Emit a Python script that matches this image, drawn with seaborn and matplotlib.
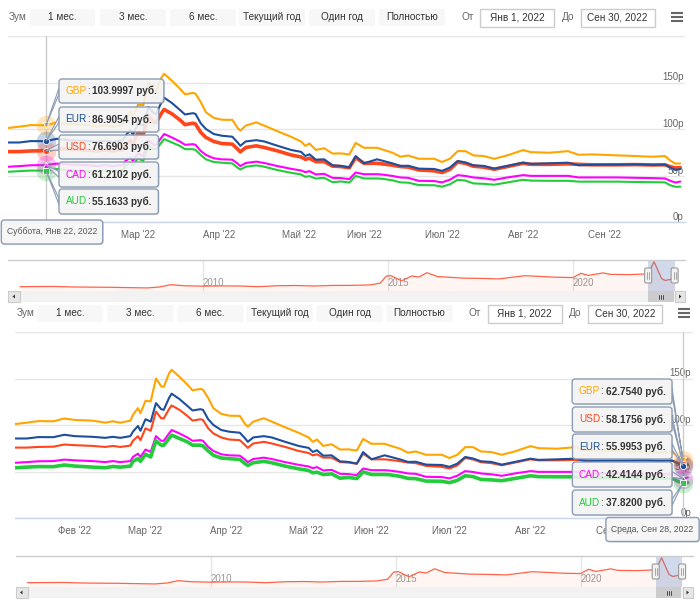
import numpy as np
import pandas as pd
import matplotlib
matplotlib.use("Agg")
import matplotlib.pyplot as plt
import matplotlib.dates as mdates
from matplotlib.patches import Rectangle, FancyBboxPatch, Polygon
import seaborn as sns

sns.set_theme(style="white")
plt.rcParams["font.family"] = ["Liberation Sans", "DejaVu Sans"]

# ---------------- data ----------------
dates = [
    "2022-01-12", "2022-01-15", "2022-01-18", "2022-01-22", "2022-01-27", "2022-02-01", "2022-02-08",
    "2022-02-13", "2022-02-16", "2022-02-19", "2022-02-23", "2022-02-24", "2022-02-26", "2022-02-27",
    "2022-03-01", "2022-03-03", "2022-03-05", "2022-03-07", "2022-03-08", "2022-03-10", "2022-03-11",
    "2022-03-14", "2022-03-17", "2022-03-19", "2022-03-22", "2022-03-23", "2022-03-25", "2022-03-27",
    "2022-03-30",
    "2022-04-02", "2022-04-06", "2022-04-08", "2022-04-09", "2022-04-11", "2022-04-15", "2022-04-18",
    "2022-04-23", "2022-04-28",
    "2022-05-02", "2022-05-04", "2022-05-06", "2022-05-09", "2022-05-13", "2022-05-17", "2022-05-21",
    "2022-05-25", "2022-05-28",
    "2022-06-01", "2022-06-06", "2022-06-08", "2022-06-12", "2022-06-15", "2022-06-18", "2022-06-22",
    "2022-06-28",
    "2022-07-01", "2022-07-04", "2022-07-07", "2022-07-10", "2022-07-13", "2022-07-17", "2022-07-21",
    "2022-07-26",
    "2022-08-01", "2022-08-04", "2022-08-11", "2022-08-18", "2022-08-22", "2022-08-27",
    "2022-09-06", "2022-09-13", "2022-09-19", "2022-09-24", "2022-09-26", "2022-09-28", "2022-09-30",
]
gbp = [101.1, 102.5, 104.2, 103.9997, 107.0, 105.4, 104.7, 102.5, 104.0, 102.5, 104.7, 110.9, 118.1, 112.7,
       126.0, 125.4, 150.0, 141.7, 141.0, 155.4, 159.4, 151.8, 143.5, 137.3, 138.8, 138.0, 129.0, 118.0, 112.0,
       110.0, 109.8, 101.0, 98.2, 103.6, 107.2, 103.6, 97.5, 91.7,
       86.6, 81.9, 84.4, 77.5, 79.3, 73.6, 73.8, 72.5, 85.0,
       79.8, 79.8, 78.0, 74.5, 70.2, 71.5, 68.0, 68.0,
       64.5, 68.0, 76.2, 76.2, 71.6, 70.9, 68.0, 71.6,
       77.3, 75.1, 74.5, 76.2, 72.3, 72.7,
       71.6, 70.9, 70.2, 70.9, 66.0, 62.754, 63.0]
eur = [85.5, 85.5, 87.0, 86.9054, 89.5, 88.0, 87.3, 86.2, 87.3, 86.2, 88.0, 92.8, 98.9, 93.8,
       106.2, 103.6, 123.5, 117.0, 116.3, 129.0, 133.7, 127.9, 120.6, 115.6, 117.0, 116.3, 106.2, 100.0, 94.6,
       92.8, 91.7, 85.5, 81.9, 86.6, 88.0, 86.6, 81.9, 77.5,
       75.4, 71.0, 72.8, 67.0, 67.4, 60.9, 60.3, 58.5, 70.9,
       63.1, 67.4, 66.0, 63.0, 60.3, 60.5, 57.4, 57.0,
       55.0, 58.5, 65.6, 64.0, 61.0, 60.3, 57.4, 60.3,
       63.8, 62.5, 63.1, 63.8, 61.0, 61.5,
       61.7, 62.0, 61.5, 61.7, 58.5, 55.9953, 57.0]
usd = [75.7, 75.7, 76.4, 76.6903, 79.0, 78.3, 77.5, 76.4, 77.5, 76.4, 77.9, 83.0, 88.0, 83.7,
       96.4, 93.8, 114.5, 107.2, 107.2, 117.0, 121.0, 116.3, 109.8, 104.7, 106.2, 105.4, 96.4, 90.9, 86.6,
       84.4, 83.7, 78.3, 75.4, 80.1, 81.9, 80.1, 76.4, 72.1,
       69.9, 67.4, 68.5, 64.9, 64.9, 60.1, 59.6, 58.3, 69.1,
       63.1, 63.1, 62.5, 61.0, 59.6, 59.0, 56.0, 55.0,
       53.2, 56.5, 64.5, 63.0, 60.0, 59.0, 56.7, 59.6,
       63.1, 62.0, 62.0, 62.5, 62.0, 61.5,
       61.5, 61.7, 61.3, 61.5, 59.5, 58.1756, 58.5]
cad = [59.4, 60.1, 61.0, 61.2102, 62.8, 62.0, 61.2, 60.1, 61.2, 60.1, 61.2, 65.6, 69.2, 65.6,
       73.6, 71.0, 88.0, 83.0, 83.0, 90.9, 94.6, 90.9, 86.6, 83.0, 83.7, 83.0, 76.4, 72.1, 68.5,
       67.4, 67.0, 62.7, 60.1, 63.4, 64.9, 63.4, 60.1, 57.2,
       55.4, 53.6, 54.7, 51.1, 51.8, 47.5, 47.2, 46.1, 53.2,
       51.4, 51.4, 51.0, 49.5, 47.9, 47.5, 44.3, 44.0,
       42.6, 45.5, 50.4, 49.5, 47.9, 47.0, 45.4, 47.9,
       50.4, 49.6, 49.6, 49.6, 47.9, 47.9,
       47.9, 47.5, 47.2, 46.8, 44.3, 42.4144, 43.5]
aud = [54.0, 54.7, 55.3, 55.1633, 57.0, 55.8, 54.7, 54.0, 55.4, 54.7, 55.8, 60.9, 63.8, 60.9,
       68.5, 65.6, 83.0, 78.3, 78.3, 85.5, 89.1, 85.5, 81.9, 78.3, 78.3, 77.5, 72.1, 67.4, 64.5,
       63.8, 63.0, 58.3, 56.5, 59.4, 60.9, 59.4, 55.8, 52.9,
       51.1, 48.6, 49.3, 46.7, 47.5, 42.8, 43.6, 42.4, 49.6,
       46.8, 46.8, 46.5, 44.8, 42.6, 42.3, 39.7, 39.5,
       38.0, 40.5, 45.4, 44.5, 41.5, 41.0, 40.1, 42.5,
       45.4, 44.5, 44.3, 44.3, 43.4, 43.4,
       43.4, 43.0, 42.8, 42.6, 39.5, 37.82, 38.0]

series_names = ["USD", "EUR", "GBP", "CAD", "AUD"]
series_colors = {"GBP": "#ffa500", "EUR": "#1d4f9c", "USD": "#ff451c", "CAD": "#ff00ff", "AUD": "#22cc3a"}
series_markers = {"GBP": "v", "EUR": "o", "USD": "o", "CAD": "^", "AUD": "s"}

month_ticks = ["2022-02-01", "2022-03-01", "2022-04-01", "2022-05-01",
               "2022-06-01", "2022-07-01", "2022-08-01", "2022-09-01"]
month_labels = ["Фев '22", "Мар '22", "Апр '22", "Май '22", "Июн '22", "Июл '22", "Авг '22", "Сен '22"]
y_ticks = [0, 50, 100, 150, 200]
y_labels = ["0р", "50р", "100р", "150р", ""]

nav_dates = ["2005-01-20", "2005-07-01", "2006-01-01", "2006-07-01", "2007-01-01", "2007-07-01",
             "2008-01-01", "2008-07-01", "2008-11-01", "2009-02-15", "2009-07-01", "2010-01-01",
             "2010-07-01", "2011-01-01", "2011-07-01", "2012-01-01", "2012-07-01", "2013-01-01",
             "2013-07-01", "2014-01-01", "2014-07-01", "2014-10-15", "2014-12-16", "2015-01-30",
             "2015-05-15", "2015-08-25", "2015-11-01", "2016-01-21", "2016-05-01", "2016-09-01",
             "2017-01-01", "2017-07-01", "2018-01-01", "2018-04-15", "2018-09-10", "2019-01-01",
             "2019-07-01", "2020-01-01", "2020-03-20", "2020-06-01", "2020-10-25", "2021-01-01",
             "2021-07-01", "2022-01-12", "2022-03-11", "2022-05-25", "2022-06-30", "2022-09-30"]
nav_usd = [28.0, 28.5, 28.8, 27.0, 26.3, 25.8, 24.5, 23.4, 27.0, 35.5,
           31.5, 30.0, 31.0, 30.5, 28.0, 31.5, 32.5, 30.5, 32.7, 33.0,
           34.5, 41.0, 67.8, 69.0, 50.0, 68.0, 64.0, 80.0, 66.0, 63.0,
           60.0, 59.0, 57.0, 62.0, 69.0, 67.0, 63.5, 62.0, 78.0, 70.0,
           79.5, 74.0, 73.0, 75.7, 121.0, 58.3, 51.2, 58.5]
nav_ticks = ["2010-01-01", "2015-01-01", "2020-01-01"]
nav_labels = ["2010", "2015", "2020"]
selection = ("2022-01-12", "2022-09-30")

zoom_label = "Зум"
range_buttons = ["1 мес.", "3 мес.", "6 мес.", "Текущий год", "Один год", "Полностью"]
from_label, to_label = "От", "До"
range_from, range_to = "Янв 1, 2022", "Сен 30, 2022"

top_tip = {"date": "2022-01-22", "title": "Суббота, Янв 22, 2022",
           "order": ["GBP", "EUR", "USD", "CAD", "AUD"],
           "text": {"GBP": "103.9997 руб.", "EUR": "86.9054 руб.", "USD": "76.6903 руб.",
                    "CAD": "61.2102 руб.", "AUD": "55.1633 руб."}}
bottom_tip = {"date": "2022-09-28", "title": "Среда, Сен 28, 2022",
              "order": ["GBP", "USD", "EUR", "CAD", "AUD"],
              "text": {"GBP": "62.7540 руб.", "USD": "58.1756 руб.", "EUR": "55.9953 руб.",
                       "CAD": "42.4144 руб.", "AUD": "37.8200 руб."}}

df = pd.DataFrame({"date": pd.to_datetime(dates), "GBP": gbp, "EUR": eur, "USD": usd,
                   "CAD": cad, "AUD": aud}).melt(id_vars="date", var_name="currency", value_name="rate")
nav_df = pd.DataFrame({"date": pd.to_datetime(nav_dates), "rate": nav_usd})

# ---------------- layout ----------------
W, H = 700, 603
fig = plt.figure(figsize=(W / 100, H / 100), dpi=100)
fig.patch.set_facecolor("white")


def px_axes(x0, y0, x1, y1):
    return fig.add_axes([x0 / W, 1 - y1 / H, (x1 - x0) / W, (y1 - y0) / H])


def dnum(s):
    return mdates.date2num(pd.Timestamp(s))


# ordinal-like x scale of the stock chart (date -> panel pixel)
anc_dates = ["2021-01-12", "2022-01-12", "2022-01-22", "2022-02-01", "2022-03-01", "2022-04-01",
             "2022-05-01", "2022-06-01", "2022-07-01", "2022-08-01", "2022-09-01", "2022-09-28",
             "2022-10-02", "2023-10-02"]
anc_pix = [8 - 365 * 2.6, 8, 46, 67.5, 138, 219, 299, 364, 442, 523, 605, 675.5, 685, 685 + 365 * 2.6]
anc_num = np.array([dnum(d) for d in anc_dates])
anc_pix = np.array(anc_pix, float)


def fwd(v):
    return np.interp(v, anc_num, anc_pix)


def inv(p):
    return np.interp(p, anc_pix, anc_num)


ov = fig.add_axes([0, 0, 1, 1])
ov.set_xlim(0, W)
ov.set_ylim(H, 0)
ov.axis("off")
ov.set_zorder(10)

FS = 7.2
renderer = fig.canvas.get_renderer()


def value_at(cur, date):
    sub = df[(df.currency == cur) & (df.date == pd.Timestamp(date))]
    return float(sub.rate.iloc[0])


def draw_panel(ox, oy, hover, tip):
    ax = px_axes(8 + ox, 36 + oy, 685 + ox, 222 + oy)
    for cur in series_names:
        sub = df[df.currency == cur]
        sns.lineplot(data=sub, x="date", y="rate", ax=ax, color=series_colors[cur],
                     linewidth=2.6 if cur == hover else 1.5, estimator=None, legend=False)
    for ln in ax.lines:
        ln.set_solid_joinstyle("round")
    ax.set_xscale("function", functions=(fwd, inv))
    ax.set_xlim(inv(8), inv(685))
    ax.set_ylim(0, 200)
    ax.set_xticks([dnum(d) for d in month_ticks])
    ax.set_xticklabels(month_labels)
    ax.set_yticks(y_ticks)
    ax.set_yticklabels(y_labels)
    ax.yaxis.tick_right()
    ax.tick_params(axis="y", length=0, pad=-1, labelsize=7, labelcolor="#666666",
                   labelright=True, labelleft=False)
    for lab in ax.get_yticklabels():
        lab.set_horizontalalignment("right")
        lab.set_verticalalignment("bottom")
    ax.tick_params(axis="x", direction="out", length=3.6, width=0.8, color="#ccd6eb", pad=2,
                   labelsize=7, labelcolor="#666666")
    ax.grid(False)
    ax.yaxis.grid(True, color="#e6e6e6", lw=1)
    for s in ["top", "left", "right"]:
        ax.spines[s].set_visible(False)
    ax.spines["bottom"].set_color("#ccd6eb")
    ax.spines["bottom"].set_linewidth(1)
    ax.set_xlabel("")
    ax.set_ylabel("")
    ax.set_axisbelow(True)
    ax.patch.set_alpha(0)

    tnum = dnum(tip["date"])
    ax.axvline(tnum, color="#cccccc", lw=1, zorder=1)
    for cur in tip["order"]:
        v = value_at(cur, tip["date"])
        ax.scatter([tnum], [v], s=200, color=series_colors[cur], alpha=0.25, lw=0, zorder=5, clip_on=False)
        ax.scatter([tnum], [v], s=20, marker=series_markers[cur], color=series_colors[cur],
                   edgecolor="white", lw=0.6, zorder=6, clip_on=False)

    # navigator
    nav = px_axes(8 + ox, 260 + oy, 685 + ox, 291 + oy)
    sns.lineplot(data=nav_df, x="date", y="rate", ax=nav, color="#ff6347", linewidth=0.9,
                 estimator=None, legend=False)
    nav.fill_between(nav_df["date"], nav_df["rate"], 0, color="#ff451c", alpha=0.05, lw=0)
    n10, n20 = dnum("2010-01-01"), dnum("2020-01-01")
    k = (n20 - n10) / (573 - 203)
    nav.set_xlim(n10 + (8 - 203) * k, n10 + (685 - 203) * k)
    nav.set_ylim(12, 127.4)
    nav.set_xticks([dnum(d) for d in nav_ticks])
    nav.set_xticklabels(nav_labels)
    nav.tick_params(axis="x", direction="in", length=0, pad=-9, labelsize=7, labelcolor="#999999")
    for lab in nav.get_xticklabels():
        lab.set_horizontalalignment("left")
    nav.set_yticks([])
    nav.grid(False)
    nav.xaxis.grid(True, color="#e6e6e6", lw=1)
    for s in nav.spines.values():
        s.set_visible(False)
    nav.set_xlabel("")
    nav.set_ylabel("")
    nav.patch.set_alpha(0)
    return ax, nav


def draw_toolbar(ox, oy):
    yc = 17.5 + oy
    ov.text(9 + ox, yc, zoom_label, color="#666666", fontsize=FS, ha="left", va="center")
    btn_x = [(30, 95), (100, 166), (170, 236), (239, 305), (309, 375), (379, 445)]
    for (x0, x1), lab in zip(btn_x, range_buttons):
        ov.add_patch(FancyBboxPatch((x0 + ox, 9 + oy), x1 - x0, 17,
                                    boxstyle="round,pad=0,rounding_size=2", fc="#f7f7f7", ec="none"))
        ov.text((x0 + x1) / 2 + ox, yc, lab, color="#333333", fontsize=FS, ha="center", va="center")
    ov.text(467.5 + ox, yc, from_label, color="#666666", fontsize=FS, ha="center", va="center")
    ov.text(568 + ox, yc, to_label, color="#666666", fontsize=FS, ha="center", va="center")
    for (x0, x1), lab in zip([(480, 554), (580.5, 654.5)], [range_from, range_to]):
        ov.add_patch(Rectangle((x0 + ox, 8.5 + oy), x1 - x0, 18, fc="white", ec="#cccccc", lw=1))
        ov.text((x0 + x1) / 2 + ox, yc, lab, color="#333333", fontsize=FS, ha="center", va="center")
    for yy in (13, 16.8, 20.6):
        ov.plot([670.5 + ox, 682.5 + ox], [yy + oy] * 2, color="#666666", lw=1.5, solid_capstyle="butt")


def draw_nav_extras(nav, ox, oy):
    ov.plot([8 + ox, 685 + ox], [260 + oy] * 2, color="#cccccc", lw=1)
    sx0 = nav.transData.transform((dnum(selection[0]), 50))[0]
    sx1 = nav.transData.transform((dnum(selection[1]), 50))[0]
    ov.add_patch(Rectangle((sx0, 260 + oy), sx1 - sx0, 31, fc=(0.4, 0.52, 0.76, 0.3), ec="none"))
    for hx in (sx0, sx1):
        ov.add_patch(FancyBboxPatch((hx - 3.5, 268 + oy), 7, 15, boxstyle="round,pad=0,rounding_size=1.5",
                                    fc="#f2f2f2", ec="#999999", lw=0.8, zorder=4))
        for dx in (-1, 1):
            ov.plot([hx + dx] * 2, [272 + oy, 279 + oy], color="#999999", lw=0.6, zorder=5)
    ov.add_patch(Rectangle((8 + ox, 291 + oy), 677, 11, fc="#f2f2f2", ec="none"))
    ov.add_patch(Rectangle((sx0, 291 + oy), sx1 - sx0 - 1, 11, fc="#cccccc", ec="none"))
    cx = (sx0 + sx1) / 2
    for dx in (-2, 0, 2):
        ov.plot([cx + dx] * 2, [294.5 + oy, 298.5 + oy], color="#333333", lw=0.6)
    ov.add_patch(Rectangle((8 + ox, 291 + oy), 12, 11, fc="#e6e6e6", ec="#cccccc", lw=0.8))
    ov.add_patch(Polygon([(12.5 + ox, 296.5 + oy), (15 + ox, 294.5 + oy), (15 + ox, 298.5 + oy)],
                         closed=True, fc="#333333", ec="none"))
    ov.add_patch(Rectangle((675 + ox, 291 + oy), 10, 11, fc="#e6e6e6", ec="#cccccc", lw=0.8))
    ov.add_patch(Polygon([(681.5 + ox, 296.5 + oy), (679 + ox, 294.5 + oy), (679 + ox, 298.5 + oy)],
                         closed=True, fc="#333333", ec="none"))


BOX_FC = (0.97, 0.97, 0.97, 0.88)
BOX_EC = "#8c9cb4"


def tip_box(x0, y0, x1, y1, fc=BOX_FC):
    ov.add_patch(FancyBboxPatch((x0 + 1.2, y0 + 1.2), x1 - x0, y1 - y0,
                                boxstyle="round,pad=0,rounding_size=3", fc=(0, 0, 0, 0.10), ec="none", zorder=7))
    ov.add_patch(FancyBboxPatch((x0, y0), x1 - x0, y1 - y0, boxstyle="round,pad=0,rounding_size=3",
                                fc=fc, ec=BOX_EC, lw=1, zorder=8))


def draw_tips(ax, tip, boxes_y, side, anchor_x, title_center):
    tnum = dnum(tip["date"])
    for cur, (y0, y1) in zip(tip["order"], boxes_y):
        v = value_at(cur, tip["date"])
        dx, dy = ax.transData.transform((tnum, v))
        px, py = dx, H - dy
        ym = (y0 + y1) / 2
        t1 = ov.text(0, ym, cur, color=series_colors[cur], fontsize=FS, ha="left", va="center", zorder=9)
        t2 = ov.text(0, ym, ":", color="#333333", fontsize=FS, ha="left", va="center", zorder=9)
        t3 = ov.text(0, ym, tip["text"][cur], color="#333333", fontsize=FS, fontweight="bold",
                     ha="left", va="center", zorder=9)
        w1 = t1.get_window_extent(renderer).width
        w2 = t2.get_window_extent(renderer).width
        w3 = t3.get_window_extent(renderer).width
        gap = 3.0
        total = w1 + w2 + gap + w3
        if side == "left":
            bx0 = anchor_x
            bx1 = bx0 + total + 13
            edge = bx0
        else:
            bx1 = anchor_x
            bx0 = bx1 - total - 13
            edge = bx1
        tx = bx0 + 6.5
        t1.set_x(tx)
        t2.set_x(tx + w1)
        t3.set_x(tx + w1 + w2 + gap)
        ov.add_patch(Polygon([(edge, ym - 3), (px, py), (edge, ym + 3)], closed=True,
                             fc=BOX_FC, ec=BOX_EC, lw=0.8, zorder=7.5))
        tip_box(bx0, y0, bx1, y1)
    cxp, cyp = title_center
    tt = ov.text(cxp, cyp, tip["title"], color="#555555", fontsize=6.2, ha="center", va="center", zorder=9)
    wt = tt.get_window_extent(renderer).width
    tip_box(cxp - wt / 2 - 5.5, cyp - 12, cxp + wt / 2 + 5.5, cyp + 12, fc=(0.97, 0.97, 0.97, 0.96))


# top panel
ax_top, nav_top = draw_panel(0, 0, "USD", top_tip)
draw_toolbar(0, 0)
draw_nav_extras(nav_top, 0, 0)
draw_tips(ax_top, top_tip, [(79, 103), (107, 132), (135, 159), (162, 187), (189, 214)], "left", 59, (52, 232))

# bottom panel (same chart, other hover point)
ax_bot, nav_bot = draw_panel(7.5, 296, "AUD", bottom_tip)
draw_toolbar(7.5, 296)
draw_nav_extras(nav_bot, 7.5, 296)
draw_tips(ax_bot, bottom_tip, [(379, 404), (407, 432), (434, 459), (462, 487), (490, 515)], "right", 672,
          (652.5, 529.5))

fig.savefig("out.png", dpi=100, facecolor="white")
